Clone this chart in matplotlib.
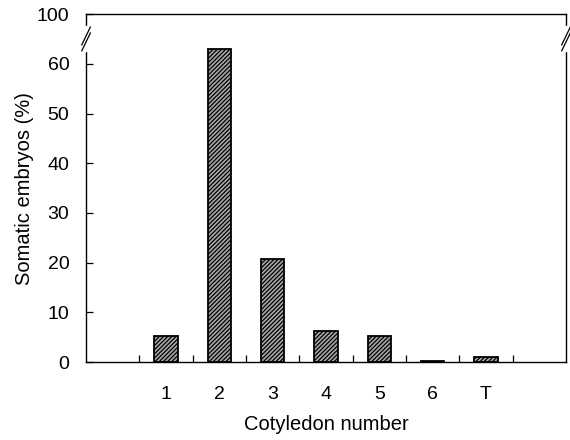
import matplotlib
matplotlib.use("Agg")
import matplotlib.pyplot as plt
import numpy as np

categories = ["1", "2", "3", "4", "5", "6", "T"]
values = [5.2, 63.0, 20.8, 6.2, 5.2, 0.2, 1.0]
ytick_values = [0, 10, 20, 30, 40, 50, 60, 70]
ytick_labels = ["0", "10", "20", "30", "40", "50", "60", "100"]

plt.rcParams['font.family'] = ['Liberation Sans', 'DejaVu Sans']
plt.rcParams['hatch.linewidth'] = 0.9

fig = plt.figure(figsize=(5.7, 4.4), dpi=100)
ax = fig.add_axes([0.151, 0.177, 0.842, 0.791])

x = np.arange(1, len(categories) + 1)
ax.bar(x, values, width=0.44, color="#a8a8a8", edgecolor="black",
       linewidth=1.3, hatch="////////")

ax.set_xlim(-0.5, 8.5)
ax.set_ylim(0, 69.6)
ax.set_yticks(ytick_values)
ax.set_yticklabels(ytick_labels, fontsize=14)
ax.set_xticks(x)
ax.set_xticklabels(categories, fontsize=14)
ax.set_xticks(np.arange(0.5, 8.0, 1.0), minor=True)
ax.tick_params(axis='x', which='major', length=0, pad=17)
ax.tick_params(axis='x', which='minor', direction='in', length=5, width=0.9)
ax.tick_params(axis='y', direction='in', length=5, width=0.9, pad=12)

for s in ax.spines.values():
    s.set_linewidth(1.0)

# axis break marks on left and right spines
trans = ax.get_yaxis_transform()
for xs in (0, 1):
    ax.plot([xs, xs], [62.8, 67.2], transform=trans, color="white",
            lw=3, clip_on=False, zorder=5)
    for dy in (0.0, 1.2):
        ax.plot([xs - 0.009, xs + 0.009], [62.6 + dy, 66.2 + dy],
                transform=trans, color="black", lw=0.9, clip_on=False,
                zorder=6)

ax.set_xlabel("Cotyledon number", fontsize=14.5, labelpad=9)
ax.set_ylabel("Somatic embryos (%)", fontsize=14.5, labelpad=2)

fig.savefig("out.png", dpi=100)
